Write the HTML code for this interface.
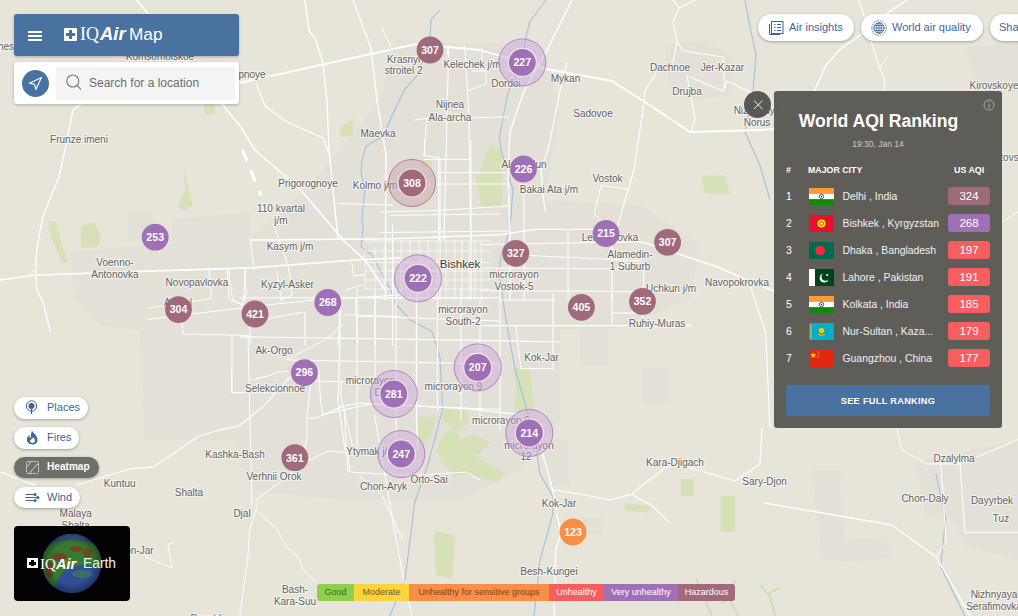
<!DOCTYPE html>
<html><head><meta charset="utf-8">
<style>
*{box-sizing:border-box;margin:0;padding:0}
html,body{width:1018px;height:616px;overflow:hidden;background:#e7e5d9;font-family:"Liberation Sans",sans-serif}
#map{position:absolute;left:0;top:0;width:1018px;height:616px}
.abs{position:absolute}
.hdr{left:14px;top:14px;width:225px;height:42px;background:#4a72a0;border-radius:3px;box-shadow:0 1px 3px rgba(0,0,0,.25)}
.srch{left:14px;top:62px;width:225px;height:42px;background:#fff;border-radius:3px;box-shadow:0 1px 3px rgba(0,0,0,.25)}
.pill{position:absolute;background:#fff;border-radius:14px;box-shadow:0 1px 3px rgba(0,0,0,.3);color:#3b6699;font-size:11px}
.lpill{position:absolute;left:14px;height:22px;background:#fff;border-radius:11px;box-shadow:0 1px 3px rgba(0,0,0,.3);color:#3b6699;font-size:11px}
.mk{position:absolute;border-radius:50%;color:#fff;font-weight:bold;font-size:12px;text-align:center}
.panel{left:774px;top:91px;width:228px;height:337px;background:rgba(88,87,82,.96);border-radius:3px;color:#fff}
.row{position:absolute;left:0;width:228px;height:20px}
.badge{position:absolute;left:174px;top:1px;width:42px;height:18px;border-radius:3px;text-align:center;font-size:11.5px;line-height:19px;color:#fff}
.legend{left:317px;top:584px;height:17px;display:flex;border-radius:3px;overflow:hidden;font-size:9px;line-height:17px}
.legend div{padding:0 0;text-align:center}
</style></head><body>
<svg id="map" width="1018" height="616" viewBox="0 0 1018 616" style="position:absolute;left:0;top:0">
<rect width="1018" height="616" fill="#e7e5d9"/>
<polygon points="70,252 140,246 250,238 300,196 340,150 380,100 396,40 470,44 540,40 560,110 545,200 640,205 700,245 690,300 610,330 560,330 560,420 520,470 460,500 340,500 250,490 235,440 145,440 140,330 100,326 75,300" fill="#e2e0d7"/>
<polygon points="665,45 705,40 735,60 730,95 700,100 670,90" fill="#e2e0d7"/>
<polygon points="916,462 1018,440 1018,560 965,545 955,520 925,515" fill="#e2e0d7"/>
<polygon points="812,470 840,470 845,560 822,560" fill="#e2e0d7"/>
<polygon points="580,329 608,329 608,365 580,365" fill="#e2e0d7"/>
<polygon points="642,368 669,368 669,404 642,404" fill="#e2e0d7"/>
<polygon points="833,542 885,537 892,558 840,562" fill="#e2e0d7"/>
<polygon points="543,440 569,440 569,486 545,486" fill="#e2e0d7"/>
<polygon points="580,517 603,517 600,535 580,535" fill="#e2e0d7"/>
<polygon points="965,48 1018,42 1018,92 978,90" fill="#e2e0d7"/>
<polygon points="128,212 152,212 152,240 128,240" fill="#e2e0d7"/>
<polygon points="172,219 250,212 250,250 172,252" fill="#e2e0d7"/>
<polygon points="204,105 214,104 215,114 205,115" fill="#d6e1b8"/>
<polygon points="339.5,128.5 353,118 353,136 340.7,137" fill="#d6e1b8"/>
<polygon points="48,221 56,222 62,245 69,263 62,262 52,240" fill="#d6e1b8"/>
<polygon points="81,226 95,222 101,237 98,247 81,248" fill="#d6e1b8"/>
<polygon points="183,166 193,205 185,211 177,207 185,190" fill="#d6e1b8"/>
<polygon points="490,145 502,150 502,206 482,207 476,180 484,160" fill="#d6e1b8"/>
<polygon points="422,158 432,158 432,168 422,168" fill="#d6e1b8"/>
<polygon points="701,176 725,175 730,195 705,193" fill="#d6e1b8"/>
<polygon points="514,368 530,368 534,411 518,411" fill="#d6e1b8"/>
<polygon points="416,417 437,417 430,440 420,447" fill="#d6e1b8"/>
<polygon points="443.6,409.6 467,409.6 468.5,424 458,428.6 459.7,440 472.9,434.5 490.4,441.8 475.8,456.4 503.6,472.5 497.7,482.7 470,474 453.9,475.4 446.5,468 436.3,450.5 442,437.4 453.9,427 442,420" fill="#d6e1b8"/>
<polygon points="515,395 530,395 530,409 515,409" fill="#d6e1b8"/>
<polygon points="434,531 455,535 452,579 436,575" fill="#d6e1b8"/>
<polygon points="681,479 694,479 694,496 681,496" fill="#d6e1b8"/>
<polygon points="720.6,496 735,496 735,532 720.6,532" fill="#d6e1b8"/>
<polygon points="625,503 650,506 648,513 625,510" fill="#d6e1b8"/>
<polyline points="440,10 431,20 430,36.5 419,73 404,90.6 391,118 383.5,136 366,146 362,160 361,171 364.7,192 362,218 363,229 361,246.5 372,255 391,290.7 396.6,305 410.7,320 432,331.6 440,357.5 442.6,409.5 428,464 414.7,502.6 411,533 405,579 390,616" fill="none" stroke="#9fc3dc" stroke-width="1.1"/>
<polyline points="546,0 529.7,22 525.5,38.6 522,62 507.6,93.8 499.3,138 502,153.7 513,189.5 509.7,230.6 501,255 499,273 506,320 515,369 530,420 537,454 540,474 552.9,497 552.9,514 540,560 534,616" fill="none" stroke="#9fc3dc" stroke-width="1.1"/>
<polyline points="745,0 749,22 756,55 753,91 745,132 760,165.5 770,200" fill="none" stroke="#9fc3dc" stroke-width="1.1"/>
<polyline points="936,474 945.6,518 940.7,566.8 960,606 965,616" fill="none" stroke="#9fc3dc" stroke-width="1.1"/>
<polyline points="393,241 393,300" fill="none" stroke="#ffffff" stroke-width="0.9" stroke-opacity="0.8"/>
<polyline points="401,241 401,300" fill="none" stroke="#ffffff" stroke-width="0.9" stroke-opacity="0.8"/>
<polyline points="410,241 410,300" fill="none" stroke="#ffffff" stroke-width="0.9" stroke-opacity="0.8"/>
<polyline points="419.6,241 419.6,300" fill="none" stroke="#ffffff" stroke-width="0.9" stroke-opacity="0.8"/>
<polyline points="428,241 428,300" fill="none" stroke="#ffffff" stroke-width="0.9" stroke-opacity="0.8"/>
<polyline points="437,241 437,300" fill="none" stroke="#ffffff" stroke-width="0.9" stroke-opacity="0.8"/>
<polyline points="446,241 446,300" fill="none" stroke="#ffffff" stroke-width="0.9" stroke-opacity="0.8"/>
<polyline points="455,241 455,300" fill="none" stroke="#ffffff" stroke-width="0.9" stroke-opacity="0.8"/>
<polyline points="462,241 462,300" fill="none" stroke="#ffffff" stroke-width="0.9" stroke-opacity="0.8"/>
<polyline points="469,241 469,300" fill="none" stroke="#ffffff" stroke-width="0.9" stroke-opacity="0.8"/>
<polyline points="475,241 475,300" fill="none" stroke="#ffffff" stroke-width="0.9" stroke-opacity="0.8"/>
<polyline points="481.4,241 481.4,300" fill="none" stroke="#ffffff" stroke-width="0.9" stroke-opacity="0.8"/>
<polyline points="365,241 490,241" fill="none" stroke="#ffffff" stroke-width="0.9" stroke-opacity="0.8"/>
<polyline points="365,251 490,251" fill="none" stroke="#ffffff" stroke-width="0.9" stroke-opacity="0.8"/>
<polyline points="365,262.4 490,262.4" fill="none" stroke="#ffffff" stroke-width="0.9" stroke-opacity="0.8"/>
<polyline points="365,271 490,271" fill="none" stroke="#ffffff" stroke-width="0.9" stroke-opacity="0.8"/>
<polyline points="365,280 490,280" fill="none" stroke="#ffffff" stroke-width="0.9" stroke-opacity="0.8"/>
<polyline points="365,289 490,289" fill="none" stroke="#ffffff" stroke-width="0.9" stroke-opacity="0.8"/>
<polyline points="365,298 490,298" fill="none" stroke="#ffffff" stroke-width="0.9" stroke-opacity="0.8"/>
<polyline points="365,246 365,290" fill="none" stroke="#ffffff" stroke-width="0.7" stroke-opacity="0.8"/>
<polyline points="375,246 375,290" fill="none" stroke="#ffffff" stroke-width="0.7" stroke-opacity="0.8"/>
<polyline points="384,246 384,290" fill="none" stroke="#ffffff" stroke-width="0.7" stroke-opacity="0.8"/>
<polyline points="137,0 240,126 255,150 300,189 344,241 365,260 385,290" fill="none" stroke="#ffffff" stroke-width="1.6" stroke-linejoin="round" stroke-linecap="round"/>
<polyline points="239,83 416,44 480,50 522,62 546,69 612,81 645,102 690,132 760,130 790,128" fill="none" stroke="#ffffff" stroke-width="1.8" stroke-linejoin="round" stroke-linecap="round"/>
<polyline points="353,0 371,48 377,101 386,155 385.5,238 385.5,300" fill="none" stroke="#ffffff" stroke-width="1.4" stroke-linejoin="round" stroke-linecap="round"/>
<polyline points="305,0 309,31 315,38 323,63 327,101 329,150 338,239" fill="none" stroke="#ffffff" stroke-width="1.4" stroke-linejoin="round" stroke-linecap="round"/>
<polyline points="340,299 340,340 338,400 345,450" fill="none" stroke="#ffffff" stroke-width="1.2" stroke-linejoin="round" stroke-linecap="round"/>
<polyline points="256,83 265,106 285,121 323,138 328,151" fill="none" stroke="#ffffff" stroke-width="1.2" stroke-linejoin="round" stroke-linecap="round"/>
<polyline points="382,28 391,47" fill="none" stroke="#ffffff" stroke-width="1.0" stroke-linejoin="round" stroke-linecap="round"/>
<polyline points="572,0 546,52 524,91 510,132 508,170 510,236 510,300" fill="none" stroke="#ffffff" stroke-width="1.4" stroke-linejoin="round" stroke-linecap="round"/>
<polyline points="567,63 560,91 549,146 541,170 543,195 545,211" fill="none" stroke="#ffffff" stroke-width="1.2" stroke-linejoin="round" stroke-linecap="round"/>
<polyline points="656,73 645,91 643,110 634,170 628,190 617,228 612,244 612,300" fill="none" stroke="#ffffff" stroke-width="1.2" stroke-linejoin="round" stroke-linecap="round"/>
<polyline points="673,0 679,8 695,0" fill="none" stroke="#ffffff" stroke-width="1.1" stroke-linejoin="round" stroke-linecap="round"/>
<polyline points="679,8 673,22 677,41 673,63" fill="none" stroke="#ffffff" stroke-width="1.1" stroke-linejoin="round" stroke-linecap="round"/>
<polyline points="677,41 683,51 723,57 725,88" fill="none" stroke="#ffffff" stroke-width="1.1" stroke-linejoin="round" stroke-linecap="round"/>
<polyline points="687,76 695,119 691,132" fill="none" stroke="#ffffff" stroke-width="1.1" stroke-linejoin="round" stroke-linecap="round"/>
<polyline points="690,77 723,91 727,81 756,95" fill="none" stroke="#ffffff" stroke-width="1.1" stroke-linejoin="round" stroke-linecap="round"/>
<polyline points="907,0 887.7,13 861.7,34 840.6,48.7 826,65 815.4,89 812,100" fill="none" stroke="#ffffff" stroke-width="1.5" stroke-linejoin="round" stroke-linecap="round"/>
<polyline points="859,0 864,16 871.4,42 879.5,68 884.4,78 884.4,91" fill="none" stroke="#ffffff" stroke-width="1.1" stroke-linejoin="round" stroke-linecap="round"/>
<polyline points="879.5,68 887.7,57" fill="none" stroke="#ffffff" stroke-width="1.0" stroke-linejoin="round" stroke-linecap="round"/>
<polyline points="448.7,46 447,118.5 444,240" fill="none" stroke="#ffffff" stroke-width="1.1" stroke-linejoin="round" stroke-linecap="round"/>
<polyline points="464.8,46 469,118.5 470.6,240" fill="none" stroke="#ffffff" stroke-width="1.1" stroke-linejoin="round" stroke-linecap="round"/>
<polyline points="482,48 482,70" fill="none" stroke="#ffffff" stroke-width="1.0" stroke-linejoin="round" stroke-linecap="round"/>
<polyline points="424,156.5 426.8,118.5 415,120" fill="none" stroke="#ffffff" stroke-width="1.0" stroke-linejoin="round" stroke-linecap="round"/>
<polyline points="426.8,118.5 508.6,117" fill="none" stroke="#ffffff" stroke-width="1.0" stroke-linejoin="round" stroke-linecap="round"/>
<polyline points="424,159.4 470.6,159.4" fill="none" stroke="#ffffff" stroke-width="1.0" stroke-linejoin="round" stroke-linecap="round"/>
<polyline points="438.5,172.6 508.6,172.6" fill="none" stroke="#ffffff" stroke-width="1.0" stroke-linejoin="round" stroke-linecap="round"/>
<polyline points="435.6,184 508.6,184" fill="none" stroke="#ffffff" stroke-width="1.0" stroke-linejoin="round" stroke-linecap="round"/>
<polyline points="438.5,159 438.5,240" fill="none" stroke="#ffffff" stroke-width="1.0" stroke-linejoin="round" stroke-linecap="round"/>
<polyline points="380,212 438,210.5 508.6,206" fill="none" stroke="#ffffff" stroke-width="1.0" stroke-linejoin="round" stroke-linecap="round"/>
<polyline points="380,232.5 508,231" fill="none" stroke="#ffffff" stroke-width="1.0" stroke-linejoin="round" stroke-linecap="round"/>
<polyline points="468.4,90.7 486,83.6 486,71 472,71" fill="none" stroke="#ffffff" stroke-width="1.0" stroke-linejoin="round" stroke-linecap="round"/>
<polyline points="508.6,71.7 532,60" fill="none" stroke="#ffffff" stroke-width="1.0" stroke-linejoin="round" stroke-linecap="round"/>
<polyline points="447,55 447,46" fill="none" stroke="#ffffff" stroke-width="1.0" stroke-linejoin="round" stroke-linecap="round"/>
<polyline points="250,240 393,238.7 500,234.8 535,229.4 595.5,229.4 645,243 716.5,266.5 760,285.8 800,300" fill="none" stroke="#ffffff" stroke-width="1.4" stroke-linejoin="round" stroke-linecap="round"/>
<polyline points="0,280 34.4,275.2 132.6,271.6 250,267.9 362,259.5 400,258" fill="none" stroke="#ffffff" stroke-width="1.6" stroke-linejoin="round" stroke-linecap="round"/>
<polyline points="338.7,203.6 393,205" fill="none" stroke="#ffffff" stroke-width="1.0" stroke-linejoin="round" stroke-linecap="round"/>
<polyline points="390.6,215.3 500,214" fill="none" stroke="#ffffff" stroke-width="1.0" stroke-linejoin="round" stroke-linecap="round"/>
<polyline points="424.4,140 424.4,155.6 440,158 440,300" fill="none" stroke="#ffffff" stroke-width="1.0" stroke-linejoin="round" stroke-linecap="round"/>
<polyline points="471,140 471,300" fill="none" stroke="#ffffff" stroke-width="1.0" stroke-linejoin="round" stroke-linecap="round"/>
<polyline points="80,105 73,109.7 65,150 59,177 43,216 36.8,248 35.6,270 36.8,290 43,302 50.3,331.7" fill="none" stroke="#ffffff" stroke-width="1.4" stroke-linejoin="round" stroke-linecap="round"/>
<polyline points="27,277.7 34,270" fill="none" stroke="#ffffff" stroke-width="1.0" stroke-linejoin="round" stroke-linecap="round"/>
<polyline points="208.7,268 211,290 211,298.6 150,307.7" fill="none" stroke="#ffffff" stroke-width="1.0" stroke-linejoin="round" stroke-linecap="round"/>
<polyline points="228.4,268 231,290 233,300 243,304.7 245.6,270" fill="none" stroke="#ffffff" stroke-width="1.0" stroke-linejoin="round" stroke-linecap="round"/>
<polyline points="147,319.5 250,307" fill="none" stroke="#ffffff" stroke-width="1.0" stroke-linejoin="round" stroke-linecap="round"/>
<polyline points="181.7,322 183,334 250,335.4" fill="none" stroke="#ffffff" stroke-width="1.0" stroke-linejoin="round" stroke-linecap="round"/>
<polyline points="232,335 232,393 250,392" fill="none" stroke="#ffffff" stroke-width="1.0" stroke-linejoin="round" stroke-linecap="round"/>
<polyline points="240,336.8 500,340.6 560,342" fill="none" stroke="#ffffff" stroke-width="1.2" stroke-linejoin="round" stroke-linecap="round"/>
<polyline points="287,360 500,364" fill="none" stroke="#ffffff" stroke-width="1.2" stroke-linejoin="round" stroke-linecap="round"/>
<polyline points="323,414.7 370,404 500,409.5" fill="none" stroke="#ffffff" stroke-width="1.2" stroke-linejoin="round" stroke-linecap="round"/>
<polyline points="240,297.8 500,297.8" fill="none" stroke="#ffffff" stroke-width="1.0" stroke-linejoin="round" stroke-linecap="round"/>
<polyline points="357,316 500,321" fill="none" stroke="#ffffff" stroke-width="1.0" stroke-linejoin="round" stroke-linecap="round"/>
<polyline points="357,290 357,450" fill="none" stroke="#ffffff" stroke-width="1.0" stroke-linejoin="round" stroke-linecap="round"/>
<polyline points="375,290 375,400" fill="none" stroke="#ffffff" stroke-width="1.0" stroke-linejoin="round" stroke-linecap="round"/>
<polyline points="396,290 396,450" fill="none" stroke="#ffffff" stroke-width="1.0" stroke-linejoin="round" stroke-linecap="round"/>
<polyline points="416.6,290 416.6,420 418,450" fill="none" stroke="#ffffff" stroke-width="1.4" stroke-linejoin="round" stroke-linecap="round"/>
<polyline points="437.4,290 437.4,410" fill="none" stroke="#ffffff" stroke-width="1.0" stroke-linejoin="round" stroke-linecap="round"/>
<polyline points="461,290 461,420" fill="none" stroke="#ffffff" stroke-width="1.0" stroke-linejoin="round" stroke-linecap="round"/>
<polyline points="248,336.8 252,506" fill="none" stroke="#ffffff" stroke-width="1.0" stroke-linejoin="round" stroke-linecap="round"/>
<polyline points="310.8,383.8 306.7,418 306.8,439 301,464.8 279.3,482.5 256,500 256.5,508 249.7,529.5 247.7,559 239.8,616" fill="none" stroke="#ffffff" stroke-width="1.0" stroke-linejoin="round" stroke-linecap="round"/>
<polyline points="286.8,360 325.7,339.4 344,323.8" fill="none" stroke="#ffffff" stroke-width="1.0" stroke-linejoin="round" stroke-linecap="round"/>
<polyline points="0,472 35,485" fill="none" stroke="#ffffff" stroke-width="1.2" stroke-linejoin="round" stroke-linecap="round"/>
<polyline points="76.6,485 130,468.8 153.6,466.8 198.8,436.3 220,429.8 237.9,426.4 247.5,419.5 265.4,404.4 275,393.4 290,376.9" fill="none" stroke="#ffffff" stroke-width="1.2" stroke-linejoin="round" stroke-linecap="round"/>
<polyline points="306.7,418 316.3,418 343.8,405.8 360,403 466,408.7 520,414.5" fill="none" stroke="#ffffff" stroke-width="1.2" stroke-linejoin="round" stroke-linecap="round"/>
<polyline points="231.7,370 231.7,392.7 276.4,392.7" fill="none" stroke="#ffffff" stroke-width="1.0" stroke-linejoin="round" stroke-linecap="round"/>
<polyline points="250.3,380.3 269.5,375.5 277.8,372 287.4,371.4" fill="none" stroke="#ffffff" stroke-width="1.0" stroke-linejoin="round" stroke-linecap="round"/>
<polyline points="319,370 320.4,400 323,414" fill="none" stroke="#ffffff" stroke-width="1.0" stroke-linejoin="round" stroke-linecap="round"/>
<polyline points="309.4,381 343.8,381.7 360,381.7" fill="none" stroke="#ffffff" stroke-width="1.0" stroke-linejoin="round" stroke-linecap="round"/>
<polyline points="341,381.7 341,397.5 353.4,450" fill="none" stroke="#ffffff" stroke-width="1.0" stroke-linejoin="round" stroke-linecap="round"/>
<polyline points="309,460.4 328.5,450.9 347.7,452.8 350,472 409,475.7 466,472 480,480" fill="none" stroke="#ffffff" stroke-width="1.0" stroke-linejoin="round" stroke-linecap="round"/>
<polyline points="344,407 347.7,472" fill="none" stroke="#ffffff" stroke-width="1.0" stroke-linejoin="round" stroke-linecap="round"/>
<polyline points="374.5,414.5 393.6,525.5 405,586.8 412,616" fill="none" stroke="#ffffff" stroke-width="1.0" stroke-linejoin="round" stroke-linecap="round"/>
<polyline points="359,475.7 382,495 403,541" fill="none" stroke="#ffffff" stroke-width="1.0" stroke-linejoin="round" stroke-linecap="round"/>
<polyline points="762,428 760,464 735,481 686,466.5 666.8,466.5 632.5,493" fill="none" stroke="#ffffff" stroke-width="1.2" stroke-linejoin="round" stroke-linecap="round"/>
<polyline points="552.9,490 580,494 610,500 631.4,494.3 652,505.6 669,522.7" fill="none" stroke="#ffffff" stroke-width="1.2" stroke-linejoin="round" stroke-linecap="round"/>
<polyline points="764.6,503 892,525 936,557 950.5,581.5 970,616" fill="none" stroke="#ffffff" stroke-width="1.4" stroke-linejoin="round" stroke-linecap="round"/>
<polyline points="896.7,428 901.6,449.4 926,464 960,464 1018,439.6" fill="none" stroke="#ffffff" stroke-width="1.0" stroke-linejoin="round" stroke-linecap="round"/>
<polyline points="941,464 946,542 936,557" fill="none" stroke="#ffffff" stroke-width="1.0" stroke-linejoin="round" stroke-linecap="round"/>
<polyline points="960,464 965,532.5 1018,532.5" fill="none" stroke="#ffffff" stroke-width="1.0" stroke-linejoin="round" stroke-linecap="round"/>
<polyline points="530,420 542.9,454.3 552.9,491.4 557,514 561,534 555.7,548.6 554,616" fill="none" stroke="#ffffff" stroke-width="1.4" stroke-linejoin="round" stroke-linecap="round"/>
<polyline points="480,290.7 580,291 644,292" fill="none" stroke="#ffffff" stroke-width="1.0" stroke-linejoin="round" stroke-linecap="round"/>
<polyline points="480,325.7 690,325.7" fill="none" stroke="#ffffff" stroke-width="1.2" stroke-linejoin="round" stroke-linecap="round"/>
<polyline points="553,293.6 553,368.6" fill="none" stroke="#ffffff" stroke-width="1.0" stroke-linejoin="round" stroke-linecap="round"/>
<polyline points="612,293.6 612,325.7" fill="none" stroke="#ffffff" stroke-width="1.0" stroke-linejoin="round" stroke-linecap="round"/>
<polyline points="612,313 644,313" fill="none" stroke="#ffffff" stroke-width="1.0" stroke-linejoin="round" stroke-linecap="round"/>
<polyline points="644,270 642.5,325.7" fill="none" stroke="#ffffff" stroke-width="1.0" stroke-linejoin="round" stroke-linecap="round"/>
<polyline points="748,279 765.7,333 770,428" fill="none" stroke="#ffffff" stroke-width="1.1" stroke-linejoin="round" stroke-linecap="round"/>
<polyline points="515.7,325.7 521,368.6 553,368.6" fill="none" stroke="#ffffff" stroke-width="1.0" stroke-linejoin="round" stroke-linecap="round"/>
<polyline points="480,244.5 642,241.8" fill="none" stroke="#ffffff" stroke-width="1.0" stroke-linejoin="round" stroke-linecap="round"/>
<polyline points="529.5,255.5 642,261" fill="none" stroke="#ffffff" stroke-width="1.0" stroke-linejoin="round" stroke-linecap="round"/>
<polyline points="480,268 642,269" fill="none" stroke="#ffffff" stroke-width="1.0" stroke-linejoin="round" stroke-linecap="round"/>
<polyline points="524,187 524,300" fill="none" stroke="#ffffff" stroke-width="1.0" stroke-linejoin="round" stroke-linecap="round"/>
<polyline points="568,229 568,300" fill="none" stroke="#ffffff" stroke-width="1.0" stroke-linejoin="round" stroke-linecap="round"/>
<polyline points="601,185.4 594,214 604,222.5" fill="none" stroke="#ffffff" stroke-width="1.0" stroke-linejoin="round" stroke-linecap="round"/>
<polyline points="601,185.4 630,189.5" fill="none" stroke="#ffffff" stroke-width="1.0" stroke-linejoin="round" stroke-linecap="round"/>
<polyline points="145.5,557 172,567.8 168,545 174,542" fill="none" stroke="#ffffff" stroke-width="1.0" stroke-linejoin="round" stroke-linecap="round"/>
<polyline points="257.5,511.8 277,529.5 285,545 298.8,558 302.7,568.8 316.5,582.5" fill="none" stroke="#ffffff" stroke-width="1.0" stroke-linejoin="round" stroke-linecap="round"/>
<polyline points="480,300 480,420" fill="none" stroke="#ffffff" stroke-width="1.0" stroke-linejoin="round" stroke-linecap="round"/>
<polyline points="500,290 500,430" fill="none" stroke="#ffffff" stroke-width="1.0" stroke-linejoin="round" stroke-linecap="round"/>
<polyline points="500,300 555,300" fill="none" stroke="#ffffff" stroke-width="1.0" stroke-linejoin="round" stroke-linecap="round"/>
<polyline points="1002,222 1018,212" fill="none" stroke="#ffffff" stroke-width="1.0" stroke-linejoin="round" stroke-linecap="round"/>
<polyline points="250.3,239 254,269.8" fill="none" stroke="#ffffff" stroke-width="1.0" stroke-linejoin="round" stroke-linecap="round"/>
<polyline points="273.7,225 283.5,252 289,270 292,295 281.5,300" fill="none" stroke="#ffffff" stroke-width="1.0" stroke-linejoin="round" stroke-linecap="round"/>
<polyline points="227,269 229,299 242.5,305" fill="none" stroke="#ffffff" stroke-width="1.0" stroke-linejoin="round" stroke-linecap="round"/>
<polyline points="244.5,270 246.4,293 242.5,305" fill="none" stroke="#ffffff" stroke-width="1.0" stroke-linejoin="round" stroke-linecap="round"/>
<polyline points="276.6,270.8 281.5,301" fill="none" stroke="#ffffff" stroke-width="1.0" stroke-linejoin="round" stroke-linecap="round"/>
<polyline points="266,305 314.7,300 400,295" fill="none" stroke="#ffffff" stroke-width="1.1" stroke-linejoin="round" stroke-linecap="round"/>
<polyline points="268,318.6 305,311.7 305,345" fill="none" stroke="#ffffff" stroke-width="1.0" stroke-linejoin="round" stroke-linecap="round"/>
<polyline points="250,316.6 250,345" fill="none" stroke="#ffffff" stroke-width="1.0" stroke-linejoin="round" stroke-linecap="round"/>
<polyline points="340,301 338,345" fill="none" stroke="#ffffff" stroke-width="1.0" stroke-linejoin="round" stroke-linecap="round"/>
<polyline points="355.6,299 357.6,345" fill="none" stroke="#ffffff" stroke-width="1.0" stroke-linejoin="round" stroke-linecap="round"/>
<polyline points="375,295 375,345" fill="none" stroke="#ffffff" stroke-width="1.0" stroke-linejoin="round" stroke-linecap="round"/>
<polyline points="392.6,225 392.6,345" fill="none" stroke="#ffffff" stroke-width="1.0" stroke-linejoin="round" stroke-linecap="round"/>
<polyline points="344,314.7 400,316.6" fill="none" stroke="#ffffff" stroke-width="1.0" stroke-linejoin="round" stroke-linecap="round"/>
<polyline points="351.7,262 353.6,275.7 365.4,274.7" fill="none" stroke="#ffffff" stroke-width="1.0" stroke-linejoin="round" stroke-linecap="round"/>
<polyline points="346,290 361.5,285" fill="none" stroke="#ffffff" stroke-width="1.0" stroke-linejoin="round" stroke-linecap="round"/>
<g stroke="#cfdcaa" stroke-width="1.6" fill="none"><path d="M696 578 L705 600 L712 616 M700 590 L690 598 M704 598 L716 594"/><path d="M735 580 L730 600 L738 616 M732 592 L722 604"/><path d="M760 585 L770 596 L775 616 M768 594 L779 588"/></g>
<path d="M242.6 150 L261 196" stroke="#fff" stroke-width="3" stroke-dasharray="12 10"/>
<g font-family="Liberation Sans" font-size="10" fill="#626262" text-anchor="middle" stroke="#f4f3ee" stroke-width="2.2" paint-order="stroke" stroke-linejoin="round">
<text x="79" y="142.8">Frunze imeni</text>
<text x="6" y="49.8">hes</text>
<text x="252" y="77.8">pnoye</text>
<text x="160" y="59.8">Komsomolskoe</text>
<text x="403.6" y="62.8">Krasnyi</text>
<text x="403.6" y="74.3">stroitel 2</text>
<text x="472" y="67.8">Kelechek j/m</text>
<text x="506" y="86.8">Dordoi</text>
<text x="450" y="108.3">Nijnea</text>
<text x="450" y="120.8">Ala-archa</text>
<text x="378" y="137.20000000000002">Maevka</text>
<text x="565.5" y="82.39999999999999">Mykan</text>
<text x="670" y="71.39999999999999">Dachnoe</text>
<text x="722.5" y="71.39999999999999">Jer-Kazar</text>
<text x="687" y="95.39999999999999">Drujba</text>
<text x="593" y="116.8">Sadovoe</text>
<text x="994" y="89.39999999999999">Kirovskoye</text>
<text x="757" y="113.8">Nizhnyaya</text>
<text x="757" y="125.8">Norus</text>
<text x="308" y="187.4">Prigorognoye</text>
<text x="375" y="189.3">Kolmo j/m</text>
<text x="281" y="211.8">110 kvartal</text>
<text x="281" y="224.3">j/m</text>
<text x="290" y="250.3">Kasym j/m</text>
<text x="287.5" y="287.8">Kyzyl-Asker</text>
<text x="524" y="168.0">Alamedun</text>
<text x="549" y="192.8">Bakai Ata j/m</text>
<text x="607.5" y="181.8">Vostok</text>
<text x="610" y="241.20000000000002">Lebedinovka</text>
<text x="630" y="257.8">Alamedin-</text>
<text x="630" y="269.5">1 Suburb</text>
<text x="514" y="277.8">microrayon</text>
<text x="514" y="289.5">Vostok-5</text>
<text x="737" y="285.5">Navopokrovka</text>
<text x="671" y="292.3">Uchkun j/m</text>
<text x="657" y="327.0">Ruhiy-Muras</text>
<text x="541.6" y="360.6">Kok-Jar</text>
<text x="463" y="313.3">microrayon</text>
<text x="463" y="324.8">South-2</text>
<text x="115" y="266.3">Voenno-</text>
<text x="115" y="277.8">Antonovka</text>
<text x="197" y="285.7">Novopavlovka</text>
<text x="178" y="305.8">Ak-Jol</text>
<text x="274" y="353.8">Ak-Orgo</text>
<text x="275" y="391.8">Selekcionnoe</text>
<text x="370.5" y="384.2">microrayon</text>
<text x="383" y="395.6">Djal</text>
<text x="453.5" y="390.40000000000003">microrayon 9</text>
<text x="501" y="423.8">microrayon 6</text>
<text x="529" y="448.8">microrayon</text>
<text x="526" y="459.8">12</text>
<text x="235" y="457.8">Kashka-Bash</text>
<text x="274" y="479.5">Verhnii Orok</text>
<text x="371" y="455.40000000000003">Ytymak j/m</text>
<text x="383.5" y="490.3">Chon-Aryk</text>
<text x="429" y="482.6">Orto-Sai</text>
<text x="189" y="495.6">Shalta</text>
<text x="242" y="516.8">Djal</text>
<text x="119.7" y="486.5">Kuntuu</text>
<text x="75.7" y="517.0999999999999">Malaya</text>
<text x="75.7" y="528.5999999999999">Shalta</text>
<text x="133" y="554.3">Chon-Jar</text>
<text x="295" y="592.8">Bash-</text>
<text x="295" y="605.1999999999999">Kara-Suu</text>
<text x="207" y="621.8">Beyaldi</text>
<text x="675" y="466.40000000000003">Kara-Djigach</text>
<text x="764.6" y="484.8">Sary-Djon</text>
<text x="559" y="506.8">Kok-Jar</text>
<text x="549" y="574.5">Besh-Kungei</text>
<text x="954" y="461.5">Dzalylma</text>
<text x="925" y="501.8">Chon-Daly</text>
<text x="992" y="503.8">Dayyrbek</text>
<text x="1001" y="521.8">Tuz</text>
<text x="994" y="597.5">Nizhnyaya</text>
<text x="994" y="609.8">Serafimovka</text>
<text x="1012" y="160.8">tovsk</text>
</g>
<text x="460" y="268.3" font-family="Liberation Sans" font-size="11.6" fill="#3a3a3a" text-anchor="middle" stroke="#f4f3ee" stroke-width="2.2" paint-order="stroke">Bishkek</text>
<circle cx="430" cy="50" r="13.4" fill="#a06a7b"/>
<text x="430" y="53.8" font-family="Liberation Sans" font-weight="bold" font-size="10.6" fill="#fff" text-anchor="middle">307</text>
<circle cx="522.3" cy="62.4" r="23.5" fill="#c9a6d9" fill-opacity="0.45" stroke="#b184c6" stroke-width="1"/>
<circle cx="522.3" cy="62.4" r="14" fill="#a070b6" stroke="#fff" stroke-opacity="0.75" stroke-width="1.2"/>
<text x="522.3" y="66.2" font-family="Liberation Sans" font-weight="bold" font-size="10.6" fill="#fff" text-anchor="middle">227</text>
<circle cx="412" cy="183" r="23.5" fill="#c9a0ad" fill-opacity="0.45" stroke="#b07f8e" stroke-width="1"/>
<circle cx="412" cy="183" r="14" fill="#a06a7b" stroke="#fff" stroke-opacity="0.75" stroke-width="1.2"/>
<text x="412" y="186.8" font-family="Liberation Sans" font-weight="bold" font-size="10.6" fill="#fff" text-anchor="middle">308</text>
<circle cx="523.5" cy="169" r="13.4" fill="#a070b6"/>
<text x="523.5" y="172.8" font-family="Liberation Sans" font-weight="bold" font-size="10.6" fill="#fff" text-anchor="middle">226</text>
<circle cx="155.2" cy="237.2" r="13.4" fill="#a070b6"/>
<text x="155.2" y="241.0" font-family="Liberation Sans" font-weight="bold" font-size="10.6" fill="#fff" text-anchor="middle">253</text>
<circle cx="606" cy="233.5" r="13.4" fill="#a070b6"/>
<text x="606" y="237.3" font-family="Liberation Sans" font-weight="bold" font-size="10.6" fill="#fff" text-anchor="middle">215</text>
<circle cx="667.6" cy="242.3" r="13.4" fill="#a06a7b"/>
<text x="667.6" y="246.10000000000002" font-family="Liberation Sans" font-weight="bold" font-size="10.6" fill="#fff" text-anchor="middle">307</text>
<circle cx="515.8" cy="253.3" r="13.4" fill="#a06a7b"/>
<text x="515.8" y="257.1" font-family="Liberation Sans" font-weight="bold" font-size="10.6" fill="#fff" text-anchor="middle">327</text>
<circle cx="418" cy="278.3" r="23.5" fill="#c9a6d9" fill-opacity="0.45" stroke="#b184c6" stroke-width="1"/>
<circle cx="418" cy="278.3" r="14" fill="#a070b6" stroke="#fff" stroke-opacity="0.75" stroke-width="1.2"/>
<text x="418" y="282.1" font-family="Liberation Sans" font-weight="bold" font-size="10.6" fill="#fff" text-anchor="middle">222</text>
<circle cx="327.8" cy="302.5" r="13.4" fill="#a070b6"/>
<text x="327.8" y="306.3" font-family="Liberation Sans" font-weight="bold" font-size="10.6" fill="#fff" text-anchor="middle">268</text>
<circle cx="178.5" cy="309.6" r="13.4" fill="#a06a7b"/>
<text x="178.5" y="313.40000000000003" font-family="Liberation Sans" font-weight="bold" font-size="10.6" fill="#fff" text-anchor="middle">304</text>
<circle cx="255" cy="314" r="13.4" fill="#a06a7b"/>
<text x="255" y="317.8" font-family="Liberation Sans" font-weight="bold" font-size="10.6" fill="#fff" text-anchor="middle">421</text>
<circle cx="581.4" cy="307.3" r="13.4" fill="#a06a7b"/>
<text x="581.4" y="311.1" font-family="Liberation Sans" font-weight="bold" font-size="10.6" fill="#fff" text-anchor="middle">405</text>
<circle cx="642.5" cy="301.4" r="13.4" fill="#a06a7b"/>
<text x="642.5" y="305.2" font-family="Liberation Sans" font-weight="bold" font-size="10.6" fill="#fff" text-anchor="middle">352</text>
<circle cx="477.7" cy="367.4" r="23.5" fill="#c9a6d9" fill-opacity="0.45" stroke="#b184c6" stroke-width="1"/>
<circle cx="477.7" cy="367.4" r="14" fill="#a070b6" stroke="#fff" stroke-opacity="0.75" stroke-width="1.2"/>
<text x="477.7" y="371.2" font-family="Liberation Sans" font-weight="bold" font-size="10.6" fill="#fff" text-anchor="middle">207</text>
<circle cx="304.4" cy="372.6" r="13.4" fill="#a070b6"/>
<text x="304.4" y="376.40000000000003" font-family="Liberation Sans" font-weight="bold" font-size="10.6" fill="#fff" text-anchor="middle">296</text>
<circle cx="393.8" cy="394" r="23.5" fill="#c9a6d9" fill-opacity="0.45" stroke="#b184c6" stroke-width="1"/>
<circle cx="393.8" cy="394" r="14" fill="#a070b6" stroke="#fff" stroke-opacity="0.75" stroke-width="1.2"/>
<text x="393.8" y="397.8" font-family="Liberation Sans" font-weight="bold" font-size="10.6" fill="#fff" text-anchor="middle">281</text>
<circle cx="529.3" cy="433" r="23.5" fill="#c9a6d9" fill-opacity="0.45" stroke="#b184c6" stroke-width="1"/>
<circle cx="529.3" cy="433" r="14" fill="#a070b6" stroke="#fff" stroke-opacity="0.75" stroke-width="1.2"/>
<text x="529.3" y="436.8" font-family="Liberation Sans" font-weight="bold" font-size="10.6" fill="#fff" text-anchor="middle">214</text>
<circle cx="401.3" cy="454" r="23.5" fill="#c9a6d9" fill-opacity="0.45" stroke="#b184c6" stroke-width="1"/>
<circle cx="401.3" cy="454" r="14" fill="#a070b6" stroke="#fff" stroke-opacity="0.75" stroke-width="1.2"/>
<text x="401.3" y="457.8" font-family="Liberation Sans" font-weight="bold" font-size="10.6" fill="#fff" text-anchor="middle">247</text>
<circle cx="294.8" cy="457.7" r="13.4" fill="#a06a7b"/>
<text x="294.8" y="461.5" font-family="Liberation Sans" font-weight="bold" font-size="10.6" fill="#fff" text-anchor="middle">361</text>
<circle cx="573" cy="532" r="13.4" fill="#f98e46"/>
<text x="573" y="535.8" font-family="Liberation Sans" font-weight="bold" font-size="10.6" fill="#fff" text-anchor="middle">123</text>
</svg>
<!-- header -->
<div class="abs hdr">
  <div class="abs" style="left:14px;top:17px;width:14px;height:2px;background:#fff"></div>
  <div class="abs" style="left:14px;top:21px;width:14px;height:2px;background:#fff"></div>
  <div class="abs" style="left:14px;top:25px;width:14px;height:2px;background:#fff"></div>
  <div class="abs" style="left:50px;top:14px;width:13px;height:13px;background:#fff;border-radius:1px"></div>
  <div class="abs" style="left:55px;top:16px;width:3px;height:9px;background:#4a72a0"></div>
  <div class="abs" style="left:52px;top:19px;width:9px;height:3px;background:#4a72a0"></div>
  <div class="abs" style="left:66px;top:8px;color:#fff;font-size:18px;line-height:24px;font-family:'Liberation Serif',serif">IQ</div>
  <div class="abs" style="left:86px;top:8px;color:#fff;font-size:18.4px;line-height:24px;font-weight:bold;font-style:italic">Air</div>
  <div class="abs" style="left:115px;top:8px;color:#fff;font-size:17.2px;line-height:24px">Map</div>
</div>
<!-- search -->
<div class="abs srch">
  <div class="abs" style="left:8px;top:8px;width:27px;height:27px;border-radius:50%;background:#4a72a0"></div>
  <svg class="abs" style="left:8px;top:8px" width="27" height="27" viewBox="0 0 27 27"><path d="M7.5 13.2 L19.5 7.5 L13.8 19.5 L12.6 14.4 Z" fill="none" stroke="#fff" stroke-width="1.1" stroke-linejoin="round"/></svg>
  <div class="abs" style="left:42px;top:5px;width:179px;height:33px;background:#f4f4f4;border-radius:2px"></div>
  <svg class="abs" style="left:50px;top:11px" width="20" height="20" viewBox="0 0 20 20"><circle cx="8.8" cy="8" r="6" fill="none" stroke="#777" stroke-width="1.1"/><path d="M13 12.3 L17 16.6" stroke="#777" stroke-width="1.2"/></svg>
  <div class="abs" style="left:75px;top:13px;color:#6e6e6e;font-size:12px;line-height:16px;white-space:nowrap">Search for a location</div>
</div>

<!-- top right pills -->
<div class="pill" style="left:758px;top:14px;width:96px;height:27px">
  <svg class="abs" style="left:11px;top:7px" width="15" height="14" viewBox="0 0 15 14"><rect x="2.5" y="0.5" width="11.5" height="12" fill="none" stroke="#3b6699" stroke-width="1"/><path d="M0.5 3 V13.5 H11" fill="none" stroke="#3b6699" stroke-width="1"/><path d="M5 3.5h1.5M5 6.5h1.5M5 9.5h1.5M8 3.5h4M8 6.5h4M8 9.5h4" stroke="#3b6699" stroke-width="1.2"/></svg>
  <span class="abs" style="left:31px;top:7px;white-space:nowrap">Air insights</span></div>
<div class="pill" style="left:861px;top:14px;width:122px;height:27px">
  <svg class="abs" style="left:10px;top:6px" width="16" height="16" viewBox="0 0 16 16"><circle cx="8" cy="8" r="7.2" fill="none" stroke="#3b6699" stroke-width="0.9" stroke-dasharray="1.4 0.9"/><circle cx="8" cy="8" r="5.2" fill="none" stroke="#3b6699" stroke-width="0.9"/><ellipse cx="8" cy="8" rx="2.3" ry="5.2" fill="none" stroke="#3b6699" stroke-width="0.8"/><path d="M2.8 8h10.4M3.5 5.5h9M3.5 10.5h9M8 2.8v10.4" stroke="#3b6699" stroke-width="0.8"/></svg>
  <span class="abs" style="left:31px;top:7px;white-space:nowrap">World air quality</span></div>
<div class="pill" style="left:990px;top:14px;width:60px;height:27px"><span class="abs" style="left:9px;top:7px">Share</span></div>

<!-- close btn -->
<div class="abs" style="left:744px;top:91px;width:27px;height:27px;border-radius:50%;background:#595853"></div>
<svg class="abs" style="left:744px;top:91px" width="27" height="27" viewBox="0 0 27 27"><path d="M10 9.6 L18.5 18 M18.5 9.6 L10 18" stroke="#fff" stroke-width="0.9"/></svg>

<!-- panel -->
<div class="abs panel">
  <svg class="abs" style="left:209px;top:8px" width="12" height="12" viewBox="0 0 12 12"><circle cx="6" cy="6" r="5" fill="none" stroke="#aaa9a4" stroke-width="1"/><path d="M6 5v4" stroke="#aaa9a4" stroke-width="1.1"/><circle cx="6" cy="3.3" r="0.7" fill="#aaa9a4"/></svg>
  <div class="abs" style="left:0;top:19px;width:209px;text-align:center;font-size:17.6px;font-weight:bold;line-height:22px;white-space:nowrap">World AQI Ranking</div>
  <div class="abs" style="left:0;top:48px;width:208px;text-align:center;font-size:8.5px;line-height:10px;color:#cfcec9;white-space:nowrap">19:30, Jan 14</div>
  <div class="abs" style="left:12px;top:74px;font-size:9px;font-weight:bold;line-height:10px">#</div>
  <div class="abs" style="left:34px;top:74px;font-size:8.8px;font-weight:bold;line-height:10px;white-space:nowrap">MAJOR CITY</div>
  <div class="abs" style="left:180px;top:74px;font-size:8.9px;font-weight:bold;line-height:10px;white-space:nowrap">US AQI</div>
  <div class="abs" style="left:12px;top:99px;font-size:10.5px;line-height:13px">1</div>
  <div class="abs" style="left:35px;top:97px;width:25px;height:17px"><svg width="25" height="17" viewBox="0 0 25 17"><rect width="25" height="5.67" fill="#ff9933"/><rect y="5.67" width="25" height="5.67" fill="#fff"/><rect y="11.33" width="25" height="5.67" fill="#138808"/><circle cx="12.5" cy="8.5" r="2.2" fill="none" stroke="#000080" stroke-width="0.7"/><circle cx="12.5" cy="8.5" r="0.7" fill="#000080"/></svg></div>
  <div class="abs" style="left:68.5px;top:98.5px;font-size:10.4px;line-height:13px;white-space:nowrap;color:#f2f2f0">Delhi , India</div>
  <div class="abs badge" style="top:96px;background:#9f6a78">324</div>
  <div class="abs" style="left:12px;top:126px;font-size:10.5px;line-height:13px">2</div>
  <div class="abs" style="left:35px;top:124px;width:25px;height:17px"><svg width="25" height="17" viewBox="0 0 25 17"><rect width="25" height="17" fill="#e8112d"/><circle cx="12.5" cy="8.5" r="4" fill="#ffef00"/><circle cx="12.5" cy="8.5" r="2.3" fill="#e8112d"/><circle cx="12.5" cy="8.5" r="1.6" fill="#ffef00"/></svg></div>
  <div class="abs" style="left:68.5px;top:125.5px;font-size:10.4px;line-height:13px;white-space:nowrap;color:#f2f2f0">Bishkek , Kyrgyzstan</div>
  <div class="abs badge" style="top:123px;background:#9f70b5">268</div>
  <div class="abs" style="left:12px;top:153px;font-size:10.5px;line-height:13px">3</div>
  <div class="abs" style="left:35px;top:151px;width:25px;height:17px"><svg width="25" height="17" viewBox="0 0 25 17"><rect width="25" height="17" fill="#006a4e"/><circle cx="11.2" cy="8.5" r="4.8" fill="#f42a41"/></svg></div>
  <div class="abs" style="left:68.5px;top:152.5px;font-size:10.4px;line-height:13px;white-space:nowrap;color:#f2f2f0">Dhaka , Bangladesh</div>
  <div class="abs badge" style="top:150px;background:#f65e5f">197</div>
  <div class="abs" style="left:12px;top:180px;font-size:10.5px;line-height:13px">4</div>
  <div class="abs" style="left:35px;top:178px;width:25px;height:17px"><svg width="25" height="17" viewBox="0 0 25 17"><rect width="25" height="17" fill="#01411c"/><rect width="6" height="17" fill="#fff"/><circle cx="15.2" cy="9" r="4.6" fill="#fff"/><circle cx="16.6" cy="7.8" r="4" fill="#01411c"/><circle cx="18.2" cy="6" r="1" fill="#fff"/></svg></div>
  <div class="abs" style="left:68.5px;top:179.5px;font-size:10.4px;line-height:13px;white-space:nowrap;color:#f2f2f0">Lahore , Pakistan</div>
  <div class="abs badge" style="top:177px;background:#f65e5f">191</div>
  <div class="abs" style="left:12px;top:207px;font-size:10.5px;line-height:13px">5</div>
  <div class="abs" style="left:35px;top:205px;width:25px;height:17px"><svg width="25" height="17" viewBox="0 0 25 17"><rect width="25" height="5.67" fill="#ff9933"/><rect y="5.67" width="25" height="5.67" fill="#fff"/><rect y="11.33" width="25" height="5.67" fill="#138808"/><circle cx="12.5" cy="8.5" r="2.2" fill="none" stroke="#000080" stroke-width="0.7"/><circle cx="12.5" cy="8.5" r="0.7" fill="#000080"/></svg></div>
  <div class="abs" style="left:68.5px;top:206.5px;font-size:10.4px;line-height:13px;white-space:nowrap;color:#f2f2f0">Kolkata , India</div>
  <div class="abs badge" style="top:204px;background:#f65e5f">185</div>
  <div class="abs" style="left:12px;top:234px;font-size:10.5px;line-height:13px">6</div>
  <div class="abs" style="left:35px;top:232px;width:25px;height:17px"><svg width="25" height="17" viewBox="0 0 25 17"><rect width="25" height="17" fill="#00afca"/><circle cx="12.5" cy="7.5" r="2.7" fill="#fec50c"/><path d="M9 11.5 Q12.5 13 16 11.5" stroke="#fec50c" stroke-width="1" fill="none"/><rect x="1.5" y="1" width="1" height="15" fill="#fec50c"/></svg></div>
  <div class="abs" style="left:68.5px;top:233.5px;font-size:10.4px;line-height:13px;white-space:nowrap;color:#f2f2f0">Nur-Sultan , Kaza...</div>
  <div class="abs badge" style="top:231px;background:#f65e5f">179</div>
  <div class="abs" style="left:12px;top:261px;font-size:10.5px;line-height:13px">7</div>
  <div class="abs" style="left:35px;top:259px;width:25px;height:17px"><svg width="25" height="17" viewBox="0 0 25 17"><rect width="25" height="17" fill="#de2910"/><polygon points="4.2,1.8 5.0,4.2 7.5,4.2 5.5,5.7 6.3,8.1 4.2,6.6 2.2,8.1 3.0,5.7 1.0,4.2 3.5,4.2" fill="#ffde00"/><circle cx="8.6" cy="1.8" r="0.6" fill="#ffde00"/><circle cx="10" cy="3.6" r="0.6" fill="#ffde00"/><circle cx="10" cy="6" r="0.6" fill="#ffde00"/><circle cx="8.6" cy="7.6" r="0.6" fill="#ffde00"/></svg></div>
  <div class="abs" style="left:68.5px;top:260.5px;font-size:10.4px;line-height:13px;white-space:nowrap;color:#f2f2f0">Guangzhou , China</div>
  <div class="abs badge" style="top:258px;background:#f65e5f">177</div>
  <div class="abs" style="left:12px;top:294px;width:204px;height:31px;background:#4a72a0;border-radius:2px;color:#fff;text-align:center;font-size:9.2px;font-weight:bold;line-height:33px;letter-spacing:0.3px;white-space:nowrap">SEE FULL RANKING</div>
</div>

<!-- left pills -->
<div class="lpill" style="top:397px;width:74px">
  <svg class="abs" style="left:11px;top:3px" width="14" height="15" viewBox="0 0 14 15"><circle cx="6.5" cy="6" r="5.2" fill="none" stroke="#3b6699" stroke-width="1"/><circle cx="6.5" cy="6" r="3" fill="#3b6699"/><path d="M6.5 8v6" stroke="#3b6699" stroke-width="1.2"/></svg>
  <span class="abs" style="left:33px;top:4px">Places</span></div>
<div class="lpill" style="top:427px;width:65px">
  <svg class="abs" style="left:12px;top:3px" width="13" height="15" viewBox="0 0 13 15"><path d="M6 0.5 C7 3 11.5 5.5 11.5 10 C11.5 13 9 14.5 6.5 14.5 C3.5 14.5 1 12.5 1 9.8 C1 7.5 2.3 6 3.2 5 C3.2 7 4 8 4.8 8.3 C4.5 5 5.5 2.5 6 0.5 Z M6.5 13 C8 13 9 12 9 10.5 C9 9 7.5 8 6.8 7 C6.8 8.5 6 9.5 5 9.6 C4.3 10 4 10.7 4 11 C4 12.2 5 13 6.5 13 Z" fill="#3b6699" fill-rule="evenodd"/></svg>
  <span class="abs" style="left:33px;top:4px">Fires</span></div>
<div class="lpill" style="top:457px;width:85px;height:21px;background:#6f6e69;color:#fff;font-weight:bold">
  <svg class="abs" style="left:12px;top:4px" width="13" height="13" viewBox="0 0 13 13"><rect x="0.5" y="0.5" width="12" height="12" rx="1.5" fill="none" stroke="#e8e8e8" stroke-width="0.9" stroke-dasharray="2 1"/><path d="M1 6 C3 4 4 2 5 0.5 M3 12.5 C6 9 9 6 12.5 2" fill="none" stroke="#e8e8e8" stroke-width="0.9"/></svg>
  <span class="abs" style="left:33px;top:4px;font-size:10.1px">Heatmap</span></div>
<div class="lpill" style="top:487px;width:66px;height:21px">
  <svg class="abs" style="left:11px;top:5px" width="15" height="11" viewBox="0 0 15 11"><path d="M0.5 2.5h8M0.5 5.5h12M0.5 8.5h8" stroke="#3b6699" stroke-width="1.1"/><circle cx="10" cy="2.5" r="1.6" fill="#3b6699"/><circle cx="12.8" cy="5.5" r="1.6" fill="#3b6699"/><circle cx="10" cy="8.5" r="1.6" fill="#3b6699"/></svg>
  <span class="abs" style="left:33px;top:4px">Wind</span></div>

<!-- earth -->
<div class="abs" style="left:14px;top:526px;width:116px;height:75px;background:#020205;border-radius:4px;overflow:hidden">
  <svg class="abs" style="left:0;top:0" width="116" height="75" viewBox="0 0 116 75">
    <defs><clipPath id="gc"><circle cx="57.8" cy="37.5" r="29.5"/></clipPath>
    <radialGradient id="gl" cx="50%" cy="50%" r="50%"><stop offset="70%" stop-color="#000" stop-opacity="0"/><stop offset="100%" stop-color="#000" stop-opacity="0.35"/></radialGradient></defs>
    <g clip-path="url(#gc)">
      <rect x="28" y="8" width="60" height="60" fill="#304f98"/>
      <path d="M26 30 C35 10 70 8 90 25 L90 42 C80 40 70 38 60 40 C50 42 45 50 40 62 L26 62 Z" fill="#357a30"/>
      <path d="M40 10 C50 6 66 6 76 10 L70 14 C60 12 50 12 42 14 Z" fill="#3d5f9a"/>
      <ellipse cx="45" cy="31" rx="8" ry="4" fill="#7e3a22" opacity="0.8"/>
      <ellipse cx="62" cy="23" rx="7" ry="3" fill="#8a3320" opacity="0.75"/>
      <ellipse cx="74" cy="27" rx="5" ry="5" fill="#7a3a20" opacity="0.7"/>
      <ellipse cx="36" cy="44" rx="4" ry="8" fill="#7a2f22" opacity="0.7"/>
      <ellipse cx="55" cy="36" rx="6" ry="2.5" fill="#6a7a2a" opacity="0.8"/>
      <ellipse cx="68" cy="48" rx="10" ry="4" fill="#4a8a3a" opacity="0.5"/>
      <circle cx="57.8" cy="37.5" r="29.5" fill="url(#gl)"/>
    </g>
  </svg>
  <div class="abs" style="left:13px;top:32px;width:11px;height:10px;background:#fff"></div>
  <div class="abs" style="left:17px;top:34px;width:3px;height:6px;background:#000"></div>
  <div class="abs" style="left:15px;top:35.5px;width:7px;height:3px;background:#000"></div>
  <div class="abs" style="left:26px;top:29px;color:#fff;font-size:15px;line-height:18px;font-family:'Liberation Serif',serif">IQ</div>
  <div class="abs" style="left:42px;top:29px;color:#fff;font-size:14.5px;line-height:18px;font-weight:bold;font-style:italic">Air</div>
  <div class="abs" style="left:69px;top:29px;color:#f2f2f2;font-size:13.8px;line-height:18px">Earth</div>
</div>

<!-- legend -->
<div class="abs legend">
  <div style="width:37px;background:#8cd14b;color:#456030">Good</div>
  <div style="width:55px;background:#fdd43c;color:#6f5f25">Moderate</div>
  <div style="width:140px;background:#f98e46;color:#7a4420">Unhealthy for sensitive groups</div>
  <div style="width:55px;background:#f65e5f;color:#fff">Unhealthy</div>
  <div style="width:74px;background:#a070b6;color:#fff">Very unhealthy</div>
  <div style="width:57px;background:#a06a7b;color:#fff">Hazardous</div>
</div>

</body></html>
